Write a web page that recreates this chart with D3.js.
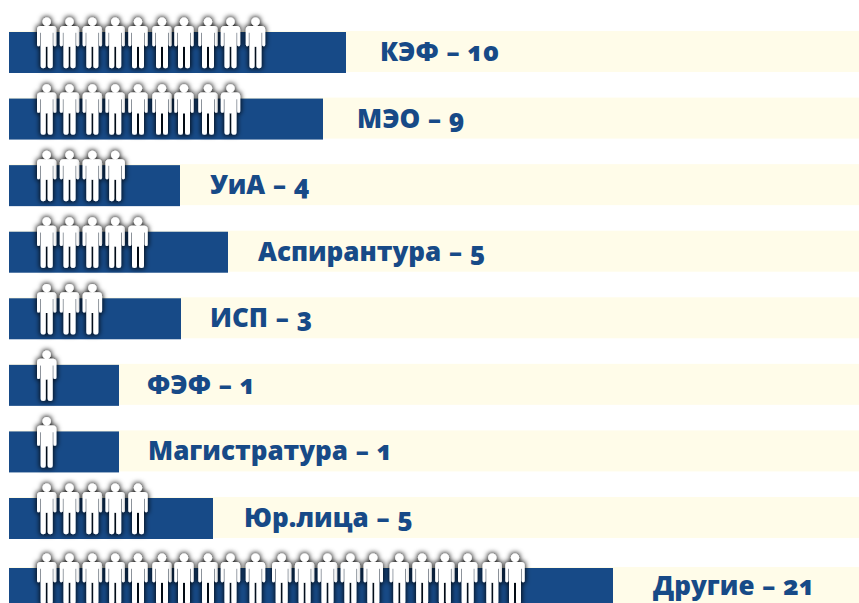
<!DOCTYPE html>
<html lang="en">

<head>
    <meta charset="UTF-8">
    <title></title>
    <script src="https://d3js.org/d3.v7.min.js"></script>
    <style>
        body {
            margin: 0;
            background: #fff;
        }

        svg {
            display: block;
        }

        .label {
            font: 800 26px 'Open Sans', sans-serif;
            font-variant-numeric: oldstyle-nums;
            word-spacing: 1px;
            fill: #174a87;
        }
    </style>
</head>

<body>
    <script>
        var categories = ["КЭФ", "МЭО", "УиА", "Аспирантура", "ИСП", "ФЭФ", "Магистратура", "Юр.лица", "Другие"];
        var counts = [10, 9, 4, 5, 3, 1, 1, 5, 21];
        // painted bar length, in pixels of the source picture (not proportional to the count)
        var barEnds = [346, 323, 180, 228, 181, 119, 119, 213, 613];
        var labelStarts = [380, 357, 210, 258, 210, 147, 148, 244, 653];

        var width = 859,
            height = 603,
            barHeight = 41;

        var svg = d3.select("body")
            .append("svg")
            .attr("width", width)
            .attr("height", height);

        var defs = svg.append("defs");
        var glow = defs.append("filter")
            .attr("id", "glow")
            .attr("x", "-80%").attr("y", "-40%")
            .attr("width", "260%").attr("height", "180%");
        glow.append("feMorphology").attr("in", "SourceAlpha").attr("operator", "dilate").attr("radius", 1).attr("result", "d");
        glow.append("feGaussianBlur").attr("in", "d").attr("stdDeviation", 2.6).attr("result", "b");
        glow.append("feFlood").attr("flood-color", "#000").attr("flood-opacity", 0.85);
        glow.append("feComposite").attr("in2", "b").attr("operator", "in").attr("result", "s");
        var merge = glow.append("feMerge");
        merge.append("feMergeNode").attr("in", "s");
        merge.append("feMergeNode").attr("in", "SourceGraphic");

        var x = d3.scaleLinear().domain([0, width]).range([0, width]);

        // rows are evenly spaced except the last, which sits a little lower
        var y = d3.scaleLinear()
            .domain([0, 7, 8])
            .range([32, 498, 568]);

        // the figures were pasted by hand, so the spacing has a few wider gaps
        var people = d3.scaleLinear()
            .domain([0, 4, 5, 6, 7, 8, 9, 10, 14, 15, 18, 19, 20])
            .range([46.7, 138, 162, 184, 208, 230.5, 255.5, 281.7, 373.3, 399.3, 467.7, 492.3, 515]);

        var rows = svg.selectAll(".row")
            .data(categories)
            .enter().append("g")
            .attr("class", "row")
            .attr("transform", function(d, i) {
                return "translate(0," + y(i) + ")";
            });

        // pale track running to the right edge
        rows.append("rect")
            .attr("x", x(9))
            .attr("y", -1)
            .attr("width", x(width) - x(9))
            .attr("height", barHeight)
            .attr("fill", "#fffce9");

        rows.append("rect")
            .attr("x", x(9))
            .attr("width", function(d, i) {
                return x(barEnds[i]) - x(9);
            })
            .attr("height", barHeight)
            .attr("fill", "#174a87");

        rows.append("text")
            .attr("class", "label")
            .attr("x", function(d, i) {
                return x(labelStarts[i]);
            })
            // last row sits higher so the descenders stay on the page
            .attr("y", function(d, i) {
                return i === categories.length - 1 ? 27 : 29;
            })
            .text(function(d, i) {
                return d + " – " + counts[i];
            });

        // head centre is the origin
        var figure = "M-4.2,0a4.2,4.2 0 1,1 8.4,0a4.2,4.2 0 1,1 -8.4,0z" +
            "M-6,4.2h12q3.7,0 3.7,3.7v15a1.5,1.5 0 0,1 -3,0v-12h-0.7v33a2.5,2.5 0 0,1 -5,0v-19h-2v19a2.5,2.5 0 0,1 -5,0v-33h-0.7v12a1.5,1.5 0 0,1 -3,0v-15q0,-3.7 3.7,-3.7z";

        rows.selectAll(".person")
            .data(function(d, i) {
                return d3.range(counts[i]);
            })
            .enter().append("path")
            .attr("class", "person")
            .attr("d", figure)
            .attr("fill", "#fff")
            .attr("filter", "url(#glow)")
            .attr("transform", function(d) {
                return "translate(" + people(d) + ",-10.2)";
            });
    </script>
</body>

</html>
